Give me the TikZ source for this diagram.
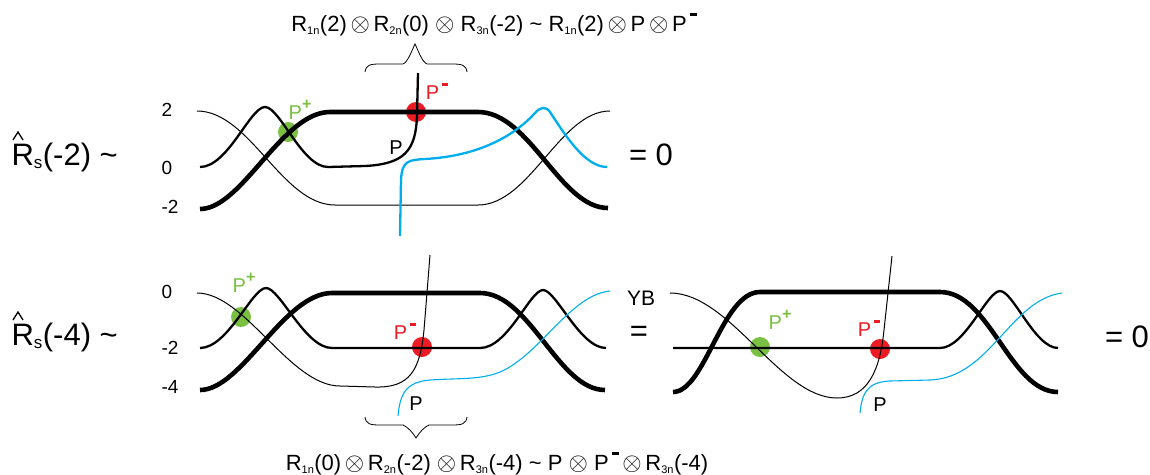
\documentclass[tikz,border=0pt]{standalone}
\usepackage{fontspec}
\setmainfont{Liberation Sans}
\definecolor{pgreen}{HTML}{7AC143}
\definecolor{pred}{HTML}{ED1C24}
\definecolor{pblue}{HTML}{00AEEF}
\newcommand{\supP}{P\raisebox{0.5em}{\fontsize{16}{16}\selectfont\bfseries +}}
\newcommand{\supM}{P\hspace{0.15em}\raisebox{0.68em}{\rule{0.3em}{0.13em}}}
\newcommand{\ox}{{\fontsize{25}{25}\selectfont$\otimes$}}
\newcommand{\sbs}[1]{\textsubscript{\fontsize{11}{11}\selectfont #1}}
\begin{document}
\begin{tikzpicture}[x=1pt,y=-1pt,
  thinl/.style={line width=1pt,line join=round},
  medl/.style={line width=2.3pt,line join=round},
  thickl/.style={line width=4.6pt,line join=round},
  bluel/.style={pblue,line width=2.3pt},
  bluethin/.style={pblue,line width=1.1pt},
  hatl/.style={line width=1.3pt},
  gdot/.style={circle,fill=pgreen,minimum size=20pt,inner sep=0pt},
  rdot/.style={circle,fill=pred,minimum size=20pt,inner sep=0pt},
  lvl/.style={font=\fontsize{19}{19}\selectfont},
  big/.style={font=\fontsize{31}{31}\selectfont},
  form/.style={font=\fontsize{22}{22}\selectfont},
  glab/.style={text=pgreen,font=\fontsize{20}{20}\selectfont,inner sep=0pt},
  rlab/.style={text=pred,font=\fontsize{20}{20}\selectfont,inner sep=0pt},
  plab/.style={font=\fontsize{20}{20}\selectfont,inner sep=0pt},
  bracel/.style={line width=0.8pt}]
\useasboundingbox (0,0) rectangle (1150,474);

% ---------- top formula and brace ----------
\node[form,anchor=base] (ftop) at (494,31) {R\sbs{1n}(2)\,\ox\,R\sbs{2n}(0) \ox\ R\sbs{3n}(-2) \textasciitilde\ R\sbs{1n}(2)\,\ox\,P\,\ox\,\supM};
\draw[bracel] (365,72) .. controls (366,65) and (370,64) .. (380,64) -- (403,64)
  .. controls (408,62) and (412,50) .. (415,44) .. controls (418,50) and (422,62) .. (427,64)
  -- (452,64) .. controls (462,64) and (466,65) .. (467,72);

% ---------- top row ----------
\node[big,anchor=base west] (r1) at (8,165) {R\sbs{\fontsize{17}{17}\selectfont s}(-2) \textasciitilde};
\coordinate (h1) at (18,132);
\draw[hatl] ([xshift=-5pt,yshift=-8pt]h1) -- (h1) -- ([xshift=5pt,yshift=-8pt]h1);
\node[lvl] (t2) at (167,110) {2};
\node[lvl] (t0) at (167,168) {0};
\node[lvl] (tm2) at (170,207) {-2};

\node[gdot] (g1) at (288,132) {};
\node[rdot] (rd1) at (416,112) {};

\draw[thinl] (197,111) .. controls (250,111) and (282,205) .. (335,205) -- (478,205)
  .. controls (530,205) and (560,111) .. (610,111);
\draw[medl] (200,167) .. controls (228,167) and (250,107) .. (265,107)
  .. controls (280,107) and (302,167) .. (328,167) -- (365,166)
  .. controls (405,164) and (416,150) .. (417,115) -- (418,73);
\draw[thickl] (200,209) .. controls (242,209) and (282,112) .. (330,112) -- (478,112)
  .. controls (530,112) and (560,208) .. (608,208);
\draw[bluel] (400,236) -- (401,180) .. controls (402,161) and (408,160) .. (425,159)
  .. controls (480,156) and (515,135) .. (535,113) .. controls (540,107) and (546,106) .. (550,112)
  .. controls (565,135) and (585,167) .. (607,167);

\node[glab] (gl1) at (300,110) {\supP};
\node[rlab] (rl1) at (437,91) {\supM};
\node[plab] (pl1) at (396,148) {P};

\node[big] (eq1) at (651,155) {= 0};

% ---------- bottom left ----------
\node[big,anchor=base west] (r2) at (8,345) {R\sbs{\fontsize{17}{17}\selectfont s}(-4) \textasciitilde};
\coordinate (h2) at (18,312);
\draw[hatl] ([xshift=-5pt,yshift=-8pt]h2) -- (h2) -- ([xshift=5pt,yshift=-8pt]h2);
\node[lvl] (b0) at (167,292) {0};
\node[lvl] (bm2) at (170,348) {-2};
\node[lvl] (bm4) at (170,387) {-4};

\node[gdot] (g2) at (241,317) {};
\node[rdot] (rd2) at (422,347) {};

\draw[thinl] (197,293) .. controls (245,293) and (290,386) .. (340,386) -- (375,387)
  .. controls (410,388) and (420,370) .. (424,330) -- (430,255);
\draw[medl] (200,348) .. controls (228,348) and (252,288) .. (266,288)
  .. controls (280,288) and (305,348) .. (332,348) -- (480,348)
  .. controls (508,348) and (530,290) .. (543,290)
  .. controls (556,290) and (580,348) .. (606,348);
\draw[thickl] (200,390) .. controls (242,390) and (284,293) .. (332,293) -- (480,293)
  .. controls (530,293) and (558,390) .. (605,390);
\draw[bluethin] (398,416) .. controls (400,395) and (405,382) .. (430,380)
  .. controls (460,378) and (480,380) .. (500,372)
  .. controls (540,355) and (570,295) .. (610,291);

\node[glab] (gl2) at (244,283) {\supP};
\node[rlab] (rl2) at (405,331) {\supM};
\node[plab] (pl2) at (416,404) {P};

\draw[bracel] (365,417) .. controls (366,424) and (370,425) .. (380,425) -- (403,425)
  .. controls (408,427) and (413,433) .. (416,438) .. controls (419,433) and (424,427) .. (429,425)
  -- (452,425) .. controls (462,425) and (466,424) .. (467,417);
\node[form,anchor=base] (fbot) at (497,470) {R\sbs{1n}(0)\,\ox\,R\sbs{2n}(-2) \ox\,R\sbs{3n}(-4) \textasciitilde\ P \ox\ \supM\,\ox\,R\sbs{3n}(-4)};

% ---------- YB ----------
\node[font=\fontsize{21}{21}\selectfont] (yb) at (641,298) {YB};
\node[big] (eqyb) at (639,334) {=};

% ---------- bottom right ----------
\node[gdot] (g3) at (760,347) {};
\node[rdot] (rd3) at (880,349) {};

\draw[thinl] (670,293) .. controls (730,293) and (780,398) .. (837,398)
  .. controls (868,398) and (880,370) .. (884,330) -- (892,256);
\draw[medl] (673,348) -- (940,348) .. controls (965,348) and (987,291) .. (1000,291)
  .. controls (1013,291) and (1035,348) .. (1058,348);
\draw[thickl] (673,392) .. controls (705,392) and (722,292) .. (760,292) -- (940,292)
  .. controls (990,292) and (1010,392) .. (1058,392);
\draw[bluethin] (860,413) .. controls (862,392) and (868,382) .. (890,381) -- (930,380)
  .. controls (990,378) and (1010,300) .. (1062,293);

\node[glab] (gl3) at (780,320) {\supP};
\node[rlab] (rl3) at (869,328) {\supM};
\node[plab] (pl3) at (880,405) {P};

\node[big] (eq2) at (1127,337) {= 0};
\end{tikzpicture}
\end{document}
